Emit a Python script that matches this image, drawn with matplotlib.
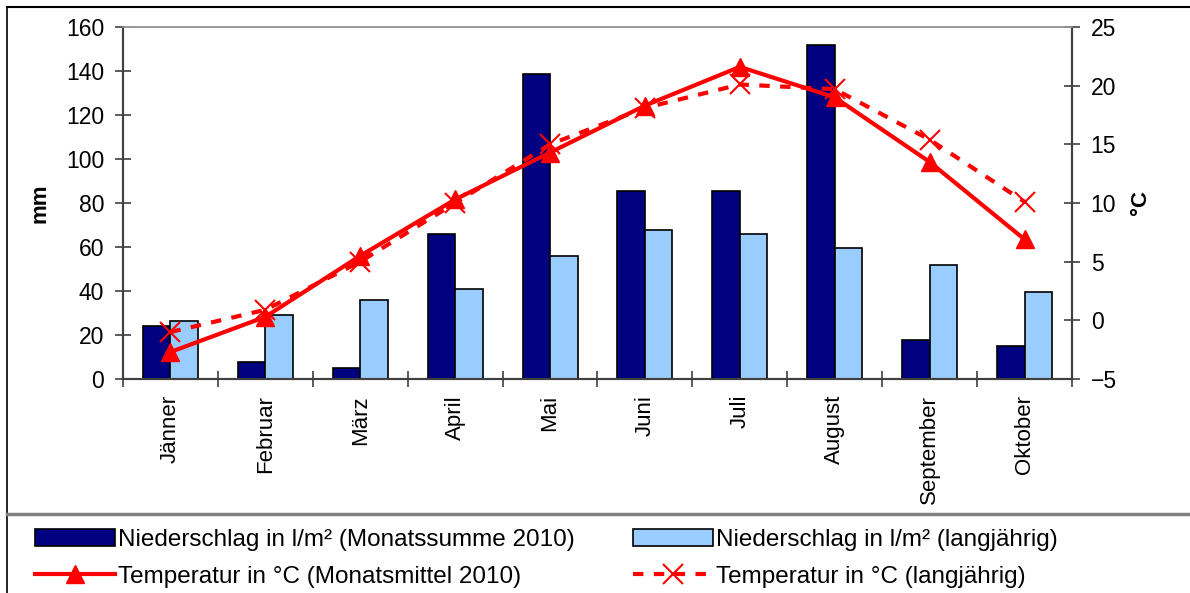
import matplotlib
matplotlib.use("Agg")
import matplotlib.pyplot as plt
import numpy as np
from matplotlib.lines import Line2D
from matplotlib.patches import Patch

plt.rcParams['font.family'] = ['Liberation Sans', 'DejaVu Sans']

monate = ['Jänner', 'Februar', 'März', 'April', 'Mai', 'Juni', 'Juli',
          'August', 'September', 'Oktober']
nied_2010 = [24, 7.5, 5, 66, 138.5, 85.5, 85.5, 152, 17.5, 15]
nied_lang = [26.5, 29, 36, 41, 56, 67.5, 66, 59.5, 52, 39.5]
temp_2010 = [-2.7, 0.3, 5.5, 10.3, 14.3, 18.3, 21.6, 19.0, 13.5, 6.9]
temp_lang = [-1.0, 0.9, 5.0, 10.0, 15.0, 18.1, 20.1, 19.7, 15.4, 10.1]

dunkelblau = '#000080'
hellblau = '#99CCFF'
rot = '#FF0000'
achse = '#404040'

fig = plt.figure(figsize=(11.9, 5.93), dpi=100)
ax = fig.add_axes([0.1034, 0.3609, 0.7974, 0.5936])
ax2 = ax.twinx()

x = np.arange(len(monate))
w = 0.29
ax.bar(x - w / 2, nied_2010, width=w, color=dunkelblau, edgecolor='black', linewidth=1.2, zorder=2)
ax.bar(x + w / 2, nied_lang, width=w, color=hellblau, edgecolor='black', linewidth=1.2, zorder=2)

ax2.plot(x, temp_lang, color=rot, linewidth=3, linestyle=(0, (2.5, 2.5)),
         marker='x', markersize=14, markeredgewidth=1.5)
ax2.plot(x, temp_2010, color=rot, linewidth=3, marker='^', markersize=13)

ax.set_xlim(-0.5, len(monate) - 0.5)
ax.set_ylim(0, 160)
ax.set_yticks(np.arange(0, 161, 20))
ax2.set_ylim(-5, 25)
ax2.set_yticks(np.arange(-5, 26, 5))

# Striche an den Kategoriegrenzen, Beschriftung in der Mitte
ax.set_xticks(np.arange(-0.5, len(monate)), labels=[])
ax.set_xticks(x, labels=monate, minor=True, rotation=90, va='top')
ax.tick_params(axis='x', which='minor', length=0, pad=11.5, labelsize=16)
ax.tick_params(axis='x', which='major', direction='inout', length=11, color=achse, width=1.2)
ax.tick_params(axis='y', direction='inout', length=11, color=achse, width=1.2, pad=8, labelsize=16.5)
ax2.tick_params(axis='y', direction='inout', length=11, color=achse, width=1.2, pad=8, labelsize=16.5)

for a in (ax, ax2):
    for s in ('left', 'bottom', 'right'):
        a.spines[s].set_color(achse)
        a.spines[s].set_linewidth(1.5)
    a.spines['top'].set_color('#999999')
    a.spines['top'].set_linewidth(1.2)
ax2.set_zorder(ax.get_zorder() + 1)
ax2.patch.set_visible(False)

fig.text(0.034, 0.6577, 'mm', rotation=90, fontsize=16, fontweight='bold', ha='center', va='center')
fig.text(0.958, 0.6577, '°C', rotation=90, fontsize=16, fontweight='bold', ha='center', va='center')

# Rahmen um Diagramm und Legende
fig.add_artist(Line2D([0.006, 1.0], [0.988, 0.988], color='black', linewidth=1.5, transform=fig.transFigure))
fig.add_artist(Line2D([0.006, 0.006], [0.0, 0.988], color='black', linewidth=1.2, transform=fig.transFigure))
fig.add_artist(Line2D([0.006, 1.0], [0.133, 0.133], color='#808080', linewidth=2.5, transform=fig.transFigure))

handles = [
    Patch(facecolor=dunkelblau, edgecolor='black', linewidth=1.2),
    Line2D([], [], color=rot, linewidth=3, marker='^', markersize=13),
    Patch(facecolor=hellblau, edgecolor='black', linewidth=1.2),
    Line2D([], [], color=rot, linewidth=3, linestyle=(0, (2.5, 2.5)), marker='x',
           markersize=14, markeredgewidth=1.5),
]
labels = [
    'Niederschlag in l/m² (Monatssumme 2010)',
    'Temperatur in °C (Monatsmittel 2010)',
    'Niederschlag in l/m² (langjährig)',
    'Temperatur in °C (langjährig)',
]
fig.legend(handles, labels, ncol=2, loc='upper left', bbox_to_anchor=(0.029, 0.108),
           frameon=False, fontsize=17.5, handlelength=3.3, handletextpad=0.12,
           columnspacing=2.4, labelspacing=0.6, borderpad=0, borderaxespad=0)

fig.savefig('out.png', dpi=100)
